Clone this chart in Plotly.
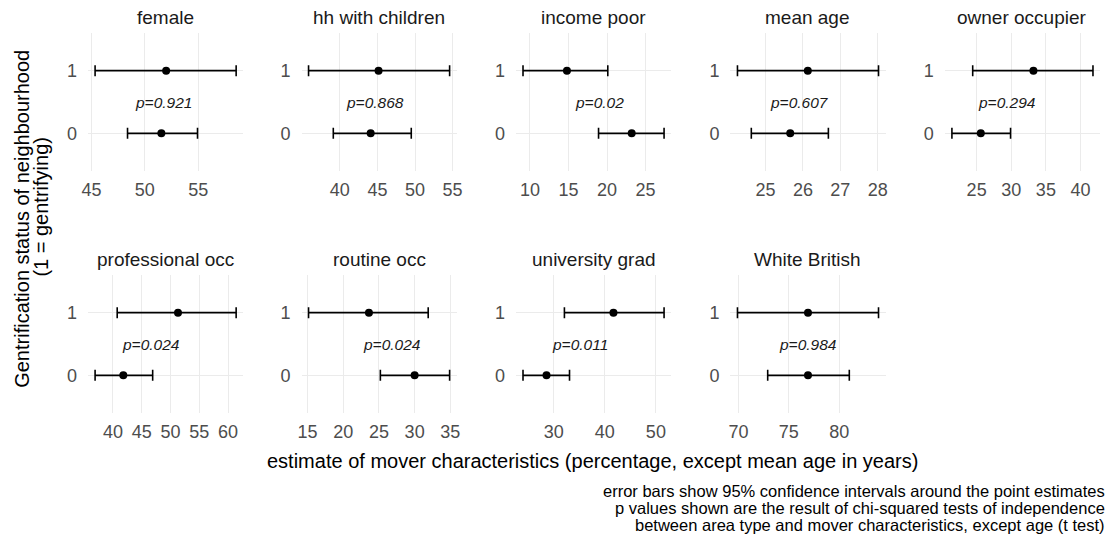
import plotly.graph_objects as go

variables = ["female", "hh with children", "income poor", "mean age", "owner occupier",
             "professional occ", "routine occ", "university grad", "White British"]
# gentrifying (1)
est_1 = [52.0, 45.15, 14.8, 26.13, 33.2, 51.3, 23.6, 41.7, 76.9]
lo_1 = [45.34, 35.84, 9.1, 24.25, 24.43, 40.74, 15.14, 32.1, 69.9]
hi_1 = [58.56, 54.6, 20.1, 28.02, 41.8, 61.4, 31.9, 51.6, 83.9]
# not gentrifying (0)
est_0 = [51.55, 44.1, 23.2, 25.66, 25.6, 41.8, 30.0, 28.6, 76.9]
lo_0 = [48.38, 39.13, 18.9, 24.62, 21.43, 36.9, 25.2, 24.0, 72.9]
hi_0 = [54.94, 49.5, 27.4, 26.68, 29.9, 46.9, 34.9, 33.1, 81.0]
p_values = ["0.921", "0.868", "0.02", "0.607", "0.294", "0.024", "0.024", "0.011", "0.984"]
x_ticks = [
    [45, 50, 55],
    [40, 45, 50, 55],
    [10, 15, 20, 25],
    [25, 26, 27, 28],
    [25, 30, 35, 40],
    [40, 45, 50, 55, 60],
    [15, 20, 25, 30, 35],
    [30, 40, 50],
    [70, 75, 80],
]
group_labels = ["0", "1"]

W, H = 1108, 540
FONT = "Liberation Sans, Arial, sans-serif"
col_left = [82, 298, 515, 732, 949]
panel_w = 157
row_top = [33, 275]
panel_h = 138

fig = go.Figure()
annotations = []
layout = {}

for i, var in enumerate(variables):
    r, c = divmod(i, 5)
    n = i + 1
    xa = "x" if n == 1 else f"x{n}"
    ya = "y" if n == 1 else f"y{n}"
    ests = [est_0[i], est_1[i]]
    los = [lo_0[i], lo_1[i]]
    his = [hi_0[i], hi_1[i]]
    fig.add_trace(go.Scatter(
        x=ests, y=[0, 1], mode="markers",
        marker=dict(color="black", size=8),
        error_x=dict(type="data", symmetric=False,
                     array=[h - e for h, e in zip(his, ests)],
                     arrayminus=[e - l for e, l in zip(ests, los)],
                     color="black", thickness=1.6, width=5.5),
        xaxis=xa, yaxis=ya, showlegend=False, hoverinfo="skip"))
    lo_all, hi_all = min(los), max(his)
    span = hi_all - lo_all
    x0 = col_left[c]
    y0 = row_top[r]
    layout[f"xaxis{n}"] = dict(
        domain=[x0 / W, (x0 + panel_w) / W], anchor=ya,
        range=[lo_all - 0.05 * span, hi_all + 0.05 * span],
        tickvals=x_ticks[i], ticktext=[str(t) for t in x_ticks[i]],
        showgrid=True, gridcolor="#EBEBEB", gridwidth=1.2,
        zeroline=False, showline=False, ticks="",
        tickfont=dict(family=FONT, size=18, color="#4D4D4D"),
        ticklabelstandoff=6)
    layout[f"yaxis{n}"] = dict(
        domain=[1 - (y0 + panel_h) / H, 1 - y0 / H], anchor=xa,
        range=[-0.6, 1.6], tickvals=[0, 1], ticktext=group_labels,
        showgrid=True, gridcolor="#EBEBEB", gridwidth=1.2,
        zeroline=False, showline=False, ticks="",
        tickfont=dict(family=FONT, size=18, color="#4D4D4D"),
        ticklabelstandoff=10)
    # strip title
    annotations.append(dict(
        text=var, xref="paper", yref="paper",
        x=(x0 + panel_w / 2) / W, y=1 - (y0 - 15) / H,
        xanchor="center", yanchor="middle", showarrow=False,
        font=dict(family=FONT, size=19, color="#1A1A1A")))
    # p value label
    annotations.append(dict(
        text=f"<i>p={p_values[i]}</i>", xref=xa, yref=ya,
        x=(est_0[i] + est_1[i]) / 2, y=0.5,
        xanchor="center", yanchor="middle", showarrow=False,
        font=dict(family=FONT, size=15.5, color="#1A1A1A")))

# axis titles
annotations.append(dict(
    text="estimate of mover characteristics (percentage, except mean age in years)",
    xref="paper", yref="paper", x=592 / W, y=1 - 461 / H,
    xanchor="center", yanchor="middle", showarrow=False,
    font=dict(family=FONT, size=20, color="black")))
for txt, xp, yp in [("Gentrification status of neighbourhood", 15, 219),
                    ("(1 = gentrifying)", 34, 207)]:
    annotations.append(dict(
        text=txt, xref="paper", yref="paper", x=xp / W, y=1 - yp / H,
        xanchor="center", yanchor="middle", showarrow=False, textangle=-90,
        font=dict(family=FONT, size=20, color="black")))

caption_lines = [
    "error bars show 95% confidence intervals around the point estimates",
    "p values shown are the result of chi-squared tests of independence",
    "between area type and mover characteristics, except age (t test)",
]
for k, line in enumerate(caption_lines):
    annotations.append(dict(
        text=line, xref="paper", yref="paper", x=1.0, xshift=5,
        y=1 - (491 + 17 * k) / H,
        xanchor="right", yanchor="middle", showarrow=False,
        font=dict(family=FONT, size=16.5, color="black")))

fig.update_layout(
    width=W, height=H, margin=dict(l=0, r=0, t=0, b=0),
    plot_bgcolor="white", paper_bgcolor="white",
    annotations=annotations, **layout)

fig.write_html("out.html")
